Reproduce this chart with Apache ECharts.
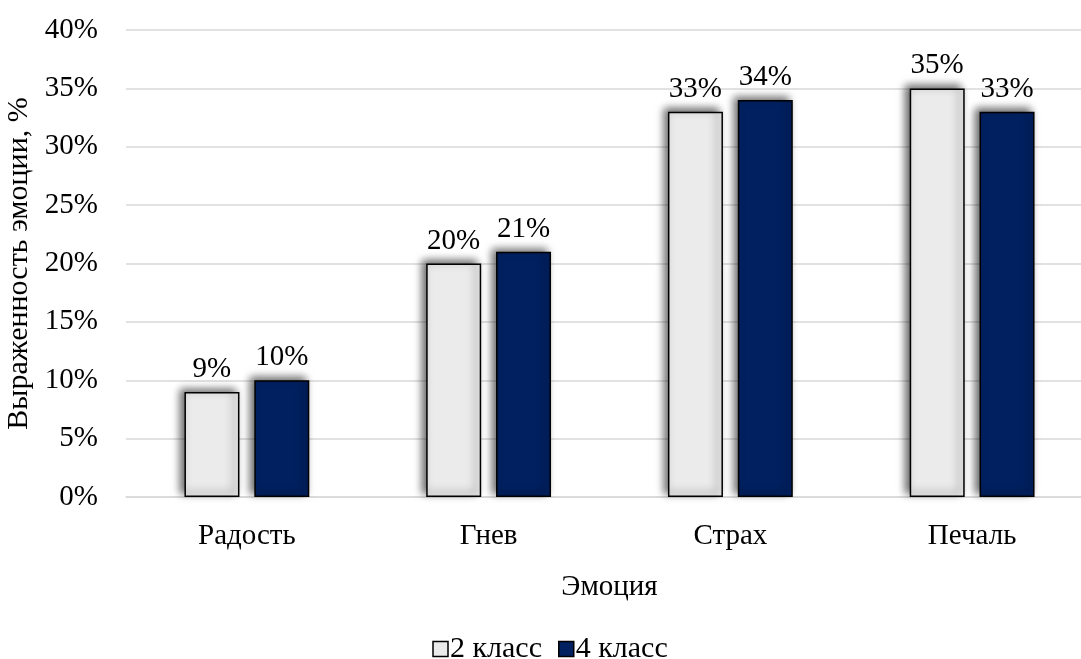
<!DOCTYPE html>
<html lang="ru">
  <head>
    <meta charset="UTF-8" />
    <title>Выраженность эмоций</title>
    <script src="https://cdn.jsdelivr.net/npm/echarts@6/dist/echarts.min.js"></script>
  </head>
  <body style="margin: 0; overflow: hidden">
    <!-- a bit wider than the window: the plot runs past the right edge, as in the source -->
    <div id="main" style="width: 1100px; height: 659px"></div>
    <script type="text/javascript">
      // data
      const emotions = ["Радость", "Гнев", "Страх", "Печаль"];
      const grade2 = [9, 20, 33, 35];
      const grade4 = [10, 21, 34, 33];
      const seriesNames = ["2 класс", "4 класс"];

      const font = "'Liberation Serif', 'Times New Roman', serif";
      const fs = 29;
      const barShadow = {
        shadowBlur: 8,
        shadowColor: "rgba(0,0,0,0.6)",
        shadowOffsetX: -4,
        shadowOffsetY: -3,
      };
      const barLabel = {
        show: true,
        position: "top",
        distance: 8,
        formatter: "{c}%",
        fontFamily: font,
        fontSize: fs,
        color: "#000",
      };

      let myChart = echarts.init(document.getElementById("main"));
      let options = {
        animation: false,
        textStyle: { fontFamily: font, color: "#000" },
        grid: { left: 126, top: 30, width: 967, bottom: 162, outerBoundsMode: "none", containLabel: false },
        legend: {
          data: seriesNames,
          icon: "rect",
          top: 629,
          left: "center",
          itemWidth: 15,
          itemHeight: 15,
          itemGap: 16,
          itemStyle: { borderColor: "#000", borderWidth: 1.5, shadowBlur: 0, shadowOffsetX: 0, shadowOffsetY: 0 },
          textStyle: { fontFamily: font, fontSize: 30, color: "#000", padding: [0, 0, 0, -3] },
        },
        xAxis: {
          type: "category",
          data: emotions,
          name: "Эмоция",
          nameLocation: "middle",
          nameGap: 76,
          nameTextStyle: { fontFamily: font, fontSize: fs, color: "#000" },
          axisLine: { lineStyle: { color: "#d9d9d9", width: 1.5 } },
          axisTick: { show: false },
          axisLabel: { margin: 25, fontSize: fs, color: "#000" },
        },
        yAxis: {
          type: "value",
          min: 0,
          max: 40,
          interval: 5,
          name: "Выраженность эмоции, %",
          nameLocation: "middle",
          nameGap: 84,
          nameTextStyle: { fontFamily: font, fontSize: 30, color: "#000" },
          axisLine: { show: false },
          axisTick: { show: false },
          splitLine: { lineStyle: { color: "#d9d9d9", width: 1.5 } },
          axisLabel: { margin: 28, fontSize: fs, color: "#000", formatter: "{value}%" },
        },
        series: [
          {
            name: seriesNames[0],
            type: "bar",
            data: grade2,
            barWidth: 55,
            barGap: "27%",
            itemStyle: Object.assign({ color: "#ebebeb", borderColor: "#000", borderWidth: 1.5 }, barShadow),
            label: barLabel,
          },
          {
            name: seriesNames[1],
            type: "bar",
            data: grade4,
            barWidth: 55,
            itemStyle: Object.assign({ color: "#002060", borderColor: "#000", borderWidth: 1.5 }, barShadow),
            label: barLabel,
          },
        ],
      };
      myChart.setOption(options);
    </script>
  </body>
</html>
